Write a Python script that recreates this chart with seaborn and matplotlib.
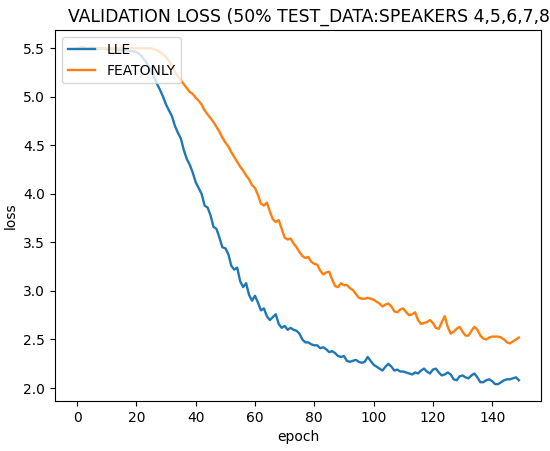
import matplotlib
matplotlib.use("Agg")
import matplotlib.pyplot as plt
import seaborn as sns
import numpy as np

title = "VALIDATION LOSS (50% TEST_DATA:SPEAKERS 4,5,6,7,8"
series_names = ["LLE", "FEATONLY"]

lle = [
    5.50, 5.50, 5.51, 5.50, 5.50, 5.50, 5.50, 5.49, 5.50, 5.50,
    5.49, 5.49, 5.49, 5.49, 5.48, 5.48, 5.48, 5.48, 5.47, 5.47,
    5.46, 5.44, 5.41, 5.37, 5.32, 5.27, 5.20, 5.13, 5.07, 5.00,
    4.92, 4.86, 4.80, 4.70, 4.63, 4.57, 4.45, 4.36, 4.30, 4.22,
    4.12, 4.06, 4.00, 3.88, 3.86, 3.78, 3.66, 3.64, 3.55, 3.45,
    3.44, 3.38, 3.26, 3.22, 3.24, 3.10, 3.04, 3.08, 2.96, 2.90,
    2.95, 2.88, 2.80, 2.82, 2.74, 2.70, 2.73, 2.76, 2.66, 2.62,
    2.64, 2.60, 2.62, 2.60, 2.59, 2.56, 2.50, 2.47, 2.47, 2.45,
    2.44, 2.44, 2.41, 2.42, 2.40, 2.37, 2.38, 2.36, 2.33, 2.32,
    2.33, 2.28, 2.27, 2.28, 2.29, 2.27, 2.26, 2.27, 2.32, 2.28,
    2.24, 2.22, 2.20, 2.18, 2.22, 2.25, 2.22, 2.18, 2.19, 2.17,
    2.17, 2.16, 2.15, 2.14, 2.16, 2.15, 2.18, 2.20, 2.17, 2.15,
    2.19, 2.20, 2.16, 2.13, 2.14, 2.16, 2.14, 2.09, 2.08, 2.12,
    2.13, 2.11, 2.10, 2.13, 2.15, 2.11, 2.06, 2.06, 2.08, 2.09,
    2.07, 2.04, 2.04, 2.06, 2.08, 2.09, 2.09, 2.10, 2.11, 2.08,
]

featonly = [
    5.50, 5.51, 5.50, 5.50, 5.50, 5.51, 5.50, 5.50, 5.50, 5.50,
    5.50, 5.50, 5.50, 5.50, 5.50, 5.50, 5.50, 5.50, 5.50, 5.50,
    5.50, 5.50, 5.50, 5.50, 5.50, 5.50, 5.49, 5.48, 5.46, 5.44,
    5.41, 5.37, 5.32, 5.26, 5.21, 5.17, 5.13, 5.09, 5.05, 5.03,
    4.99, 4.96, 4.92, 4.86, 4.82, 4.78, 4.74, 4.69, 4.64, 4.58,
    4.53, 4.49, 4.43, 4.38, 4.33, 4.28, 4.24, 4.19, 4.15, 4.09,
    4.06, 3.99, 3.90, 3.88, 3.91, 3.82, 3.74, 3.71, 3.73, 3.64,
    3.55, 3.53, 3.54, 3.49, 3.45, 3.40, 3.36, 3.34, 3.35, 3.30,
    3.28, 3.27, 3.21, 3.17, 3.19, 3.20, 3.12, 3.05, 3.04, 3.08,
    3.06, 3.06, 3.03, 3.01, 2.97, 2.93, 2.92, 2.92, 2.93, 2.92,
    2.91, 2.89, 2.87, 2.84, 2.86, 2.87, 2.84, 2.79, 2.78, 2.81,
    2.82, 2.78, 2.75, 2.76, 2.78, 2.70, 2.66, 2.67, 2.68, 2.70,
    2.67, 2.62, 2.61, 2.68, 2.74, 2.63, 2.56, 2.58, 2.61, 2.63,
    2.58, 2.54, 2.54, 2.59, 2.63, 2.60, 2.54, 2.51, 2.50, 2.52,
    2.53, 2.53, 2.53, 2.52, 2.50, 2.47, 2.46, 2.48, 2.50, 2.52,
]

epochs = np.arange(len(lle))
colors = ["#1f77b4", "#ff7f0e"]

fig = plt.figure(figsize=(5.5, 4.51), dpi=100)
ax = fig.add_axes([0.1, 0.1109, 0.8836, 0.8215])

for name, vals, c in zip(series_names, [lle, featonly], colors):
    sns.lineplot(x=epochs, y=vals, ax=ax, color=c, label=name, linewidth=1.7)

ax.legend(loc="upper left", fontsize=10)
ax.set_xlabel("epoch", fontsize=10)
ax.set_ylabel("loss", fontsize=10)
ax.set_xticks([0, 20, 40, 60, 80, 100, 120, 140])
ax.set_yticks([2.0, 2.5, 3.0, 3.5, 4.0, 4.5, 5.0, 5.5])
ax.set_title(title, fontsize=12.4, loc="left", x=0.027)

fig.savefig("out.png", dpi=100)
